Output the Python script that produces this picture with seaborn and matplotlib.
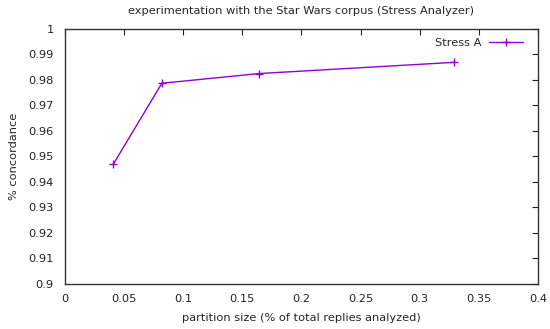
import numpy as np
import pandas as pd
import matplotlib
matplotlib.use("Agg")
import matplotlib.pyplot as plt
import seaborn as sns

# partition sizes and concordance
partition = [0.041, 0.082, 0.164, 0.329]
concordance = [0.947, 0.9787, 0.9825, 0.9869]
series = ["Stress A"] * len(partition)

df = pd.DataFrame({"partition": partition, "concordance": concordance, "series": series})

sns.set_style("white")
plt.rcParams['font.family'] = ['DejaVu Sans']

color = "#9400d3"
fs = 8.2
fig = plt.figure(figsize=(5.5, 3.29), dpi=100)
ax = fig.add_axes([0.118, 0.137, 0.86, 0.775])

sns.lineplot(data=df, x="partition", y="concordance", hue="series",
             palette=[color], marker="+", markersize=5.5, markeredgewidth=1,
             markeredgecolor=color, linewidth=1, ax=ax)

ax.set_xlim(0, 0.4)
ax.set_ylim(0.9, 1.0)
ax.set_xticks(np.arange(0, 0.41, 0.05))
ax.set_xticklabels(["0", "0.05", "0.1", "0.15", "0.2", "0.25", "0.3", "0.35", "0.4"])
ax.set_yticks(np.arange(0.9, 1.001, 0.01))
ax.set_yticklabels(["0.9", "0.91", "0.92", "0.93", "0.94", "0.95", "0.96",
                    "0.97", "0.98", "0.99", "1"])
ax.tick_params(direction="in", length=4, width=0.8, top=True, right=True,
               labelsize=fs, colors="#222222")
ax.tick_params(axis="x", pad=7)
ax.tick_params(axis="y", pad=8)
for s in ax.spines.values():
    s.set_color("#333333")
    s.set_linewidth(1)

ax.set_title("experimentation with the Star Wars corpus (Stress Analyzer)", fontsize=fs, pad=11)
ax.set_xlabel("partition size (% of total replies analyzed)", fontsize=fs, labelpad=7)
ax.set_ylabel("% concordance", fontsize=fs, labelpad=7)

ax.legend(loc="upper right", bbox_to_anchor=(0.985, 0.997), frameon=False,
          fontsize=fs, markerfirst=False, handlelength=3.0, handletextpad=0.6,
          borderaxespad=0.3)

fig.savefig("out.png", dpi=100)
